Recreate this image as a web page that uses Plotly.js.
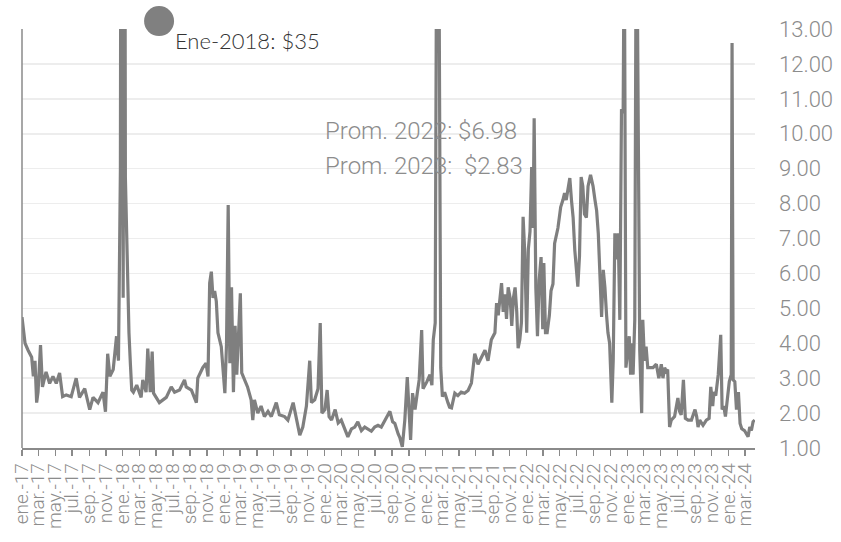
<!DOCTYPE html>
<html>
<head>
<meta charset="utf-8">
<script src="https://cdn.plot.ly/plotly-3.0.1.min.js"></script>
<style>html,body{margin:0;padding:0;background:#fff;}#chart{width:841px;height:542px;}</style>
</head>
<body>
<div id="chart"></div>
<script>
const dates = [
'2017-01-01','2017-01-12','2017-01-23','2017-02-05','2017-02-11','2017-02-17','2017-02-23','2017-02-28','2017-03-09','2017-03-16','2017-03-29','2017-04-11','2017-04-23','2017-05-05','2017-05-17','2017-05-28','2017-06-10','2017-06-28','2017-07-16','2017-07-28','2017-08-16','2017-09-03','2017-09-15','2017-10-03','2017-10-21','2017-10-30','2017-11-07','2017-11-15','2017-11-27','2017-12-09','2017-12-16','2017-12-23','2017-12-28',
'2018-01-02','2018-01-07','2018-01-10','2018-01-18','2018-01-23','2018-01-28','2018-02-02','2018-02-08','2018-02-20','2018-03-08','2018-03-14','2018-03-26','2018-04-01','2018-04-10','2018-04-17','2018-04-22','2018-05-07','2018-05-13','2018-06-07','2018-06-25','2018-07-07','2018-07-25','2018-08-12','2018-08-18','2018-09-06','2018-09-24','2018-09-29','2018-10-17','2018-10-29','2018-11-05','2018-11-11','2018-11-17','2018-11-23','2018-11-29','2018-12-05','2018-12-11','2018-12-23',
'2019-01-05','2019-01-11','2019-01-17','2019-01-23','2019-01-29','2019-02-05','2019-02-11','2019-02-17','2019-02-25','2019-03-02','2019-03-07','2019-03-16','2019-03-28','2019-04-10','2019-04-16','2019-04-22','2019-05-04','2019-05-16','2019-05-28','2019-06-10','2019-06-22','2019-07-10','2019-07-21','2019-08-09','2019-08-21','2019-09-09','2019-09-21','2019-10-03','2019-10-14','2019-10-27','2019-11-08','2019-11-14','2019-11-26','2019-12-08','2019-12-16','2019-12-22',
'2020-01-02','2020-01-10','2020-01-17','2020-01-26','2020-02-08','2020-02-19','2020-03-01','2020-03-13','2020-03-25','2020-04-07','2020-04-19','2020-04-30','2020-05-13','2020-05-25','2020-06-06','2020-06-18','2020-06-30','2020-07-12','2020-07-24','2020-08-06','2020-08-18','2020-08-24','2020-09-03','2020-09-11','2020-09-23','2020-09-29','2020-10-08','2020-10-17','2020-10-26','2020-11-01','2020-11-07','2020-11-14','2020-11-23','2020-12-01','2020-12-08','2020-12-17','2020-12-22',
'2021-01-05','2021-01-16','2021-01-23','2021-01-28','2021-02-04','2021-02-10','2021-02-16','2021-02-24','2021-03-02','2021-03-10','2021-03-22','2021-03-28','2021-04-04','2021-04-16','2021-04-27','2021-05-09','2021-05-21','2021-06-03','2021-06-15','2021-06-27','2021-07-09','2021-07-21','2021-08-03','2021-08-14','2021-08-26','2021-09-08','2021-09-14','2021-09-20','2021-10-02','2021-10-08','2021-10-14','2021-10-20','2021-10-26','2021-11-02','2021-11-08','2021-11-14','2021-11-20','2021-11-26','2021-12-01','2021-12-07','2021-12-13','2021-12-19','2021-12-25',
'2022-01-01','2022-01-07','2022-01-13','2022-01-19','2022-01-24','2022-01-28','2022-02-03','2022-02-09','2022-02-15','2022-02-22','2022-02-28','2022-03-04','2022-03-10','2022-03-16','2022-03-24','2022-03-30','2022-04-06','2022-04-12','2022-04-24','2022-05-04','2022-05-12','2022-05-18','2022-05-24','2022-06-06','2022-06-12','2022-06-18','2022-06-24','2022-06-30','2022-07-05','2022-07-11','2022-07-17','2022-07-23','2022-07-29','2022-08-05','2022-08-11','2022-08-20','2022-08-29','2022-09-05','2022-09-11','2022-09-17','2022-09-23','2022-09-29','2022-10-05','2022-10-11','2022-10-17','2022-10-22','2022-10-28','2022-11-05','2022-11-10','2022-11-16','2022-11-22','2022-11-28','2022-12-04','2022-12-10','2022-12-16','2022-12-20','2022-12-26',
'2023-01-07','2023-01-12','2023-01-17','2023-01-21','2023-01-27','2023-02-02','2023-02-14','2023-02-21','2023-02-25','2023-03-03','2023-03-09','2023-03-15','2023-03-21','2023-04-03','2023-04-15','2023-04-24','2023-05-03','2023-05-09','2023-05-15','2023-05-21','2023-05-26','2023-06-02','2023-06-08','2023-06-20','2023-07-02','2023-07-08','2023-07-14','2023-07-22','2023-07-29','2023-08-08','2023-08-20','2023-09-02','2023-09-08','2023-09-13','2023-09-19','2023-10-01','2023-10-13','2023-10-23','2023-10-29','2023-11-05','2023-11-09','2023-11-16','2023-11-25','2023-11-30','2023-12-04','2023-12-09','2023-12-15','2023-12-21','2023-12-27',
'2024-01-04','2024-01-11','2024-01-14','2024-01-18','2024-01-24','2024-01-30','2024-02-06','2024-02-12','2024-02-18','2024-02-28','2024-03-12','2024-03-18','2024-03-24','2024-03-30','2024-04-05'
];
const prices = [
4.75,4.0,3.8,3.6,3.05,3.5,2.3,2.6,3.95,2.75,3.18,2.85,3.05,2.85,3.15,2.47,2.52,2.47,3.0,2.45,2.7,2.1,2.45,2.3,2.6,2.04,3.7,3.05,3.25,4.2,3.5,8.96,35,
5.3,25,8.76,5.43,4.3,3.43,2.66,2.6,2.8,2.45,2.95,2.6,3.85,2.6,3.76,2.57,2.4,2.3,2.45,2.75,2.6,2.66,2.95,2.75,2.66,2.3,3.0,3.3,3.43,3.05,5.72,6.05,5.3,5.5,5.2,4.3,3.9,
2.57,4.0,7.96,3.43,5.6,2.6,4.5,3.1,4.6,5.43,3.15,2.95,2.75,2.38,1.8,2.38,2.0,2.2,1.9,2.05,1.9,2.3,1.95,1.9,1.8,2.3,1.8,1.37,1.6,2.2,3.5,2.3,2.38,2.7,4.58,2.0,
2.1,2.66,1.9,1.8,2.1,1.72,1.8,1.55,1.32,1.55,1.6,1.75,1.5,1.6,1.55,1.48,1.6,1.65,1.6,1.8,1.95,2.05,1.75,1.7,1.4,1.3,1.03,1.8,3.03,2.0,1.23,2.57,2.1,2.57,2.95,4.38,2.7,
2.9,3.1,2.8,4.1,4.58,18,18,3.3,2.47,2.6,2.3,2.17,2.15,2.57,2.5,2.6,2.57,2.65,2.86,3.7,3.4,3.6,3.8,3.5,4.1,4.3,5.15,4.8,5.72,4.9,5.4,4.7,5.6,5.3,4.5,5.3,5.6,4.9,3.86,4.1,4.6,7.62,6.6,
4.3,6.7,7.2,9.05,7.3,10.44,5.6,4.2,5.8,6.47,4.4,6.3,4.3,4.3,4.8,5.5,5.7,6.86,7.3,7.9,8.1,8.3,8.1,8.73,8.1,7.6,6.67,6.1,5.62,6.5,8.76,8.5,7.7,7.6,8.5,8.82,8.5,8.1,7.8,7.15,6.0,4.75,6.1,5.6,4.8,4.3,4.0,2.3,3.5,7.15,6.4,7.15,4.67,10.7,10.6,16,3.3,
4.2,3.1,4.0,3.1,4.67,18,3.8,2.0,4.67,3.5,3.9,3.3,3.3,3.3,3.4,3.0,3.4,3.0,3.3,3.2,3.25,1.6,1.8,1.9,2.43,2.05,1.95,2.95,1.85,1.8,1.8,2.1,1.9,1.6,1.8,1.65,1.8,1.85,2.75,2.2,2.6,2.5,3.1,3.7,4.24,2.1,2.2,1.9,2.4,
2.9,3.1,12.6,2.95,2.9,2.1,2.6,1.7,1.55,1.5,1.32,1.6,1.5,1.75,1.8
];
const tickDates = [
'2017-01-01','2017-03-01','2017-05-01','2017-07-01','2017-09-01','2017-11-01',
'2018-01-01','2018-03-01','2018-05-01','2018-07-01','2018-09-01','2018-11-01',
'2019-01-01','2019-03-01','2019-05-01','2019-07-01','2019-09-01','2019-11-01',
'2020-01-01','2020-03-01','2020-05-01','2020-07-01','2020-09-01','2020-11-01',
'2021-01-01','2021-03-01','2021-05-01','2021-07-01','2021-09-01','2021-11-01',
'2022-01-01','2022-03-01','2022-05-01','2022-07-01','2022-09-01','2022-11-01',
'2023-01-01','2023-03-01','2023-05-01','2023-07-01','2023-09-01','2023-11-01',
'2024-01-01','2024-03-01'
];
const tickLabels = [
'ene.-17','mar.-17','may.-17','jul.-17','sep.-17','nov.-17',
'ene.-18','mar.-18','may.-18','jul.-18','sep.-18','nov.-18',
'ene.-19','mar.-19','may.-19','jul.-19','sep.-19','nov.-19',
'ene.-20','mar.-20','may.-20','jul.-20','sep.-20','nov.-20',
'ene.-21','mar.-21','may.-21','jul.-21','sep.-21','nov.-21',
'ene.-22','mar.-22','may.-22','jul.-22','sep.-22','nov.-22',
'ene.-23','mar.-23','may.-23','jul.-23','sep.-23','nov.-23',
'ene.-24','mar.-24'
];
const yTicks = [1,2,3,4,5,6,7,8,9,10,11,12,13];
const peakLabel = 'Ene-2018: $35';
const avgLabels = ['Prom. 2022: $6.98', 'Prom. 2023:\u00A0 $2.83'];

const trace = {
  x: dates, y: prices, type: 'scatter', mode: 'lines',
  line: {color: '#7f7f7f', width: 3.2}, hoverinfo: 'skip'
};

const layout = {
  width: 841, height: 542,
  margin: {l: 22, r: 86, t: 29, b: 94},
  paper_bgcolor: '#ffffff', plot_bgcolor: 'rgba(0,0,0,0)',
  showlegend: false,
  xaxis: {
    type: 'date', range: ['2017-01-01', '2024-04-06'],
    tickmode: 'array', tickvals: tickDates, ticktext: tickLabels,
    tickangle: -90, ticks: 'outside', ticklen: 6, tickwidth: 1.2, tickcolor: '#8a8a8a',
    showline: true, linecolor: '#8a8a8a', linewidth: 1.5,
    showgrid: false, zeroline: false,
    tickfont: {family: 'Roboto', size: 19, color: '#8c8c8c', weight: 300}
  },
  yaxis: {
    range: [1, 13], side: 'right', tickmode: 'array', tickvals: yTicks,
    tickformat: '.2f', ticks: '', ticklabelstandoff: 23,
    showgrid: true, gridcolor: '#ededed', gridwidth: 1.5,
    showline: false, zeroline: false,
    tickfont: {family: 'Roboto', size: 22, color: '#8c8c8c', weight: 300}
  },
  shapes: [
    {type: 'line', xref: 'paper', yref: 'paper', x0: 0, x1: 0, y0: 0, y1: 1,
     line: {color: '#8a8a8a', width: 1.5}},
    {type: 'circle', xref: 'paper', yref: 'paper', xsizemode: 'pixel', ysizemode: 'pixel',
     xanchor: 0.187, yanchor: 1.019, x0: -15, x1: 15, y0: -15, y1: 15,
     fillcolor: '#808080', line: {width: 0}}
  ],
  annotations: [
    {xref: 'paper', yref: 'paper', x: 0.206, y: 0.972, xanchor: 'left', yanchor: 'middle',
     text: peakLabel, showarrow: false, font: {family: 'Lato', size: 22, color: '#333333', weight: 300}},
    {xref: 'paper', yref: 'paper', x: 0.410, y: 0.7566, xanchor: 'left', yanchor: 'middle',
     text: avgLabels[0], showarrow: false, font: {family: 'Roboto', size: 24, color: '#8c8c8c', weight: 300}},
    {xref: 'paper', yref: 'paper', x: 0.410, y: 0.673, xanchor: 'left', yanchor: 'middle',
     text: avgLabels[1], showarrow: false, font: {family: 'Roboto', size: 24, color: '#8c8c8c', weight: 300}}
  ]
};

Plotly.newPlot('chart', [trace], layout, {staticPlot: true, displayModeBar: false});
</script>
</body>
</html>
